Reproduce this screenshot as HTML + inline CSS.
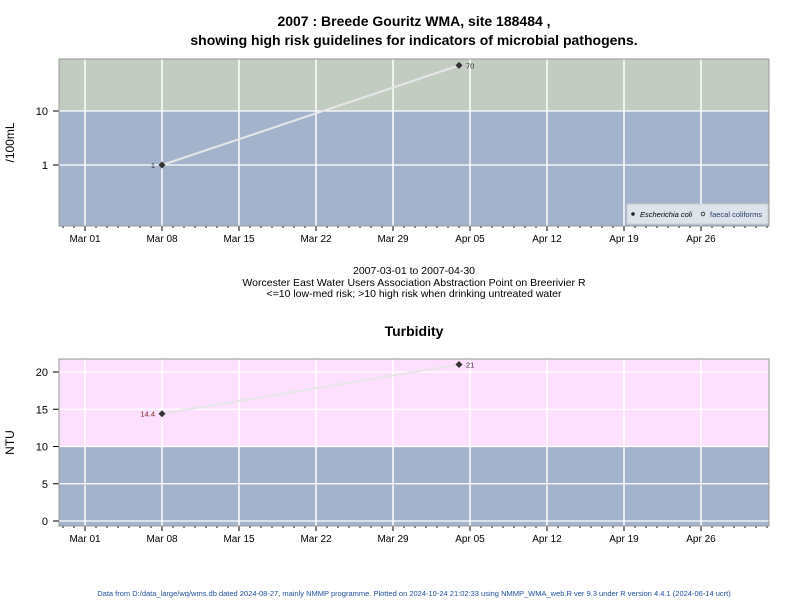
<!DOCTYPE html>
<html><head><meta charset="utf-8"><style>
body{margin:0;background:#fff;font-family:"Liberation Sans",sans-serif}
svg text{font-family:"Liberation Sans",sans-serif}
</style></head><body>
<svg id="c" width="800" height="600" xmlns="http://www.w3.org/2000/svg">
<text x="414" y="26" text-anchor="middle" font-size="14" font-weight="bold">2007 : Breede Gouritz WMA, site 188484 ,</text>
<text x="414" y="45" text-anchor="middle" font-size="14" font-weight="bold">showing high risk guidelines for indicators of microbial pathogens.</text>
<text x="414" y="274" text-anchor="middle" font-size="10.5">2007-03-01 to 2007-04-30</text>
<text x="414" y="286" text-anchor="middle" font-size="10.5">Worcester East Water Users Association Abstraction Point on Breerivier R</text>
<text x="414" y="297" text-anchor="middle" font-size="10.5">&lt;=10 low-med risk; &gt;10 high risk when drinking untreated water</text>
<text x="414" y="336" text-anchor="middle" font-size="14" font-weight="bold">Turbidity</text>
<text x="414" y="596" text-anchor="middle" font-size="7.5" fill="#2050a0">Data from D:/data_large/wq/wms.db dated 2024-08-27, mainly NMMP programme. Plotted on 2024-10-24 21:02:33 using NMMP_WMA_web.R ver 9.3 under R version 4.4.1 (2024-06-14 ucrt)</text>
<g id="p1"></g><g id="p2"></g>
</svg>
<script>
const ecoliDays=[7,34];
const ecoliValues=[1,70];
const ecoliLabels=["1","70"];
const turbDays=[7,34];
const turbValues=[14.4,21];
const turbLabels=["14.4","21"];
const xTickLabels=["Mar 01","Mar 08","Mar 15","Mar 22","Mar 29","Apr 05","Apr 12","Apr 19","Apr 26"];
const ecoliTicks=[1,10];
const turbTicks=[0,5,10,15,20];
const NS="http://www.w3.org/2000/svg";
const L=59,R=769;
const xS=d=>85+d*11;
function mk(g,t,a){const e=document.createElementNS(NS,t);for(const k in a)e.setAttribute(k,a[k]);g.appendChild(e);return e;}
function panel(g,top,bot,yS,ticks,thr,hiCol,days,vals,labs,yTitle,labLeftFirst,legend){
  const yThr=yS(thr);
  let r=mk(g,'rect',{x:L,y:top,width:R-L,height:yThr-top,fill:hiCol});
  
  r=mk(g,'rect',{x:L,y:yThr,width:R-L,height:bot-yThr,fill:'#a2b3cb'});
  
  for(let i=0;i<xTickLabels.length;i++){const x=xS(i*7);
    let l=mk(g,'line',{x1:x,x2:x,y1:top,y2:bot,stroke:'#fff','stroke-width':1.5});
    
    mk(g,'line',{x1:x,x2:x,y1:bot,y2:bot+5,stroke:'#000'});
    const t=mk(g,'text',{x:x,y:bot+16,'text-anchor':'middle','font-size':10});t.textContent=xTickLabels[i];
    }
  for(let d=-2;d<=62;d++){if(d%7)mk(g,'line',{x1:xS(d),x2:xS(d),y1:bot,y2:bot+2,stroke:'#000'});}
  ticks.forEach(v=>{const y=yS(v);
    let l=mk(g,'line',{x1:L,x2:R,y1:y,y2:y,stroke:'#fff','stroke-width':1.2});
    
    mk(g,'line',{x1:L-6,x2:L,y1:y,y2:y,stroke:'#000'});
    const t=mk(g,'text',{x:L-11,y:y+4,'text-anchor':'end','font-size':11});t.textContent=v;
    });
  mk(g,'rect',{x:L,y:top,width:R-L,height:bot-top,fill:'none',stroke:'#999'});
  const pts=days.map((d,i)=>xS(d)+','+yS(vals[i])).join(' ');
  let pl=mk(g,'polyline',{points:pts,fill:'none',stroke:'#e6e6e6','stroke-width':2});
  
  days.forEach((d,i)=>{const x=xS(d),y=yS(vals[i]);
    const p=mk(g,'path',{d:`M${x} ${y-3.5}L${x+3.5} ${y}L${x} ${y+3.5}L${x-3.5} ${y}Z`,fill:'#333'});
    
    const left=(i===0&&labLeftFirst);
    const t=mk(g,'text',{x:left?x-7:x+7,y:y+3,'text-anchor':left?'end':'start','font-size':7.5,fill:i===0&&yTitle==='NTU'?'#802020':'#333'});
    t.textContent=labs[i];});
  const yt=mk(g,'text',{x:0,y:0,'font-size':12,'text-anchor':'middle',transform:`translate(14,${(top+bot)/2}) rotate(-90)`});
  yt.textContent=yTitle;
  if(legend){const lg=mk(g,'g',{});
    mk(lg,'rect',{x:627,y:204,width:141,height:20,fill:'#dde3ea',stroke:'#ccc'});
    mk(lg,'circle',{cx:633,cy:214,r:1.8,fill:'#222'});
    let t=mk(lg,'text',{x:640,y:217,'font-size':7.5,'font-style':'italic'});t.textContent='Escherichia coli';
    
    mk(lg,'circle',{cx:703,cy:214,r:1.8,fill:'none',stroke:'#222','stroke-width':0.8});
    t=mk(lg,'text',{x:710,y:217,'font-size':7.5,fill:'#2a3a6a'});t.textContent='faecal coliforms';
    }
}
panel(document.getElementById('p1'),59,226,v=>165-54*Math.log10(v),ecoliTicks,10,'#c2ccc1',ecoliDays,ecoliValues,ecoliLabels,'/100mL',true,true);
panel(document.getElementById('p2'),359,526,v=>521-7.45*v,turbTicks,10,'#fde0fd',turbDays,turbValues,turbLabels,'NTU',true,false);
</script>
</body></html>
